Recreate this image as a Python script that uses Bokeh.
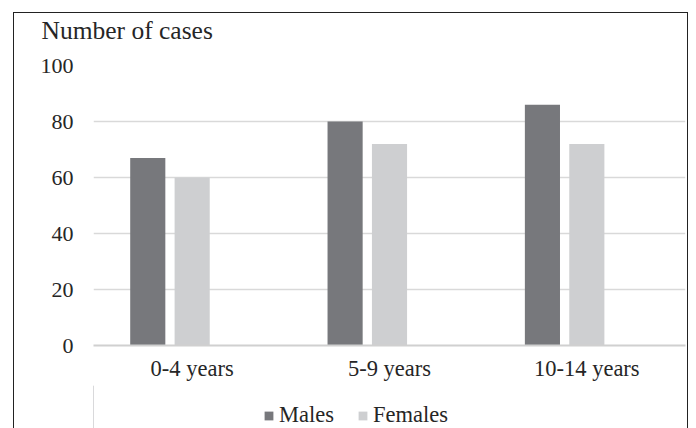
from bokeh.plotting import figure
from bokeh.layouts import column
from bokeh.models import (FactorRange, Range1d, Legend, LegendItem, Title,
                          ColumnDataSource, FixedTicker)
from bokeh.transform import dodge
from bokeh.embed import file_html
from bokeh.resources import INLINE

categories = ["0-4 years", "5-9 years", "10-14 years"]
males = [67, 80, 86]
females = [60, 72, 72]
series = ["Males", "Females"]
y_ticks = [0, 20, 40, 60, 80, 100]
title_text = "Number of cases"

FONT = "Liberation Serif"
TEXT = "#262626"
MALE_C = "#77787c"
FEMALE_C = "#cecfd1"

src = ColumnDataSource(dict(cat=categories, males=males, females=females))

p = figure(width=673, height=372,
           x_range=FactorRange(factors=categories, range_padding=0),
           y_range=Range1d(0, 100),
           output_backend="svg", toolbar_location=None,
           min_border_left=79, min_border_right=2,
           min_border_top=49, min_border_bottom=40)

r1 = p.vbar(x=dodge("cat", -0.225, range=p.x_range), top="males", width=0.178,
            source=src, fill_color=MALE_C, line_color=None)
r2 = p.vbar(x=dodge("cat", 0.0, range=p.x_range), top="females", width=0.178,
            source=src, fill_color=FEMALE_C, line_color=None)

p.outline_line_color = None
p.xgrid.visible = False
p.ygrid.grid_line_color = "#d9d9d9"
p.ygrid.grid_line_width = 1.5
p.yaxis.ticker = FixedTicker(ticks=y_ticks)

p.yaxis.axis_line_color = None
p.yaxis.major_tick_line_color = None
p.yaxis.minor_tick_line_color = None
p.yaxis.major_tick_out = 0
p.yaxis.major_tick_in = 0
p.yaxis.major_label_standoff = 20
p.yaxis.major_label_text_font = FONT
p.yaxis.major_label_text_font_size = "22px"
p.yaxis.major_label_text_color = TEXT

p.xaxis.axis_line_color = "#d0d0d0"
p.xaxis.axis_line_width = 2
p.xaxis.major_tick_line_color = None
p.xaxis.minor_tick_line_color = None
p.xaxis.major_tick_out = 0
p.xaxis.major_tick_in = 0
p.xaxis.major_label_standoff = 10
p.xaxis.major_label_text_font = FONT
p.xaxis.major_label_text_font_size = "22.5px"
p.xaxis.major_label_text_color = TEXT

# spacer between frame and title, then the title itself (outermost)
p.add_layout(Title(text=" ", text_font_size="1px", standoff=18), "above")
p.add_layout(Title(text=title_text, align="left", offset=-52, standoff=0,
                   text_font=FONT, text_font_size="25.5px",
                   text_font_style="normal", text_color=TEXT), "above")

# legend strip below the chart
lf = figure(width=673, height=43, x_range=Range1d(0, 1), y_range=Range1d(0, 1),
            output_backend="svg", toolbar_location=None,
            x_axis_type=None, y_axis_type=None,
            min_border_left=0, min_border_right=0,
            min_border_top=0, min_border_bottom=0)
lf.xgrid.visible = False
lf.ygrid.visible = False
lf.outline_line_color = None
lf.background_fill_color = None
lf.border_fill_color = None
# legend proxies, kept outside the visible range of the strip
proxy = ColumnDataSource(dict(x=[-5.0], top=[1.0]))
l1 = lf.vbar(x="x", top="top", width=0.1, source=proxy,
             fill_color=MALE_C, line_color=None)
l2 = lf.vbar(x="x", top="top", width=0.1, source=proxy,
             fill_color=FEMALE_C, line_color=None)

legend = Legend(items=[LegendItem(label=series[0], renderers=[l1]),
                       LegendItem(label=series[1], renderers=[l2])],
                orientation="horizontal", location=(170, 0))
legend.padding = 0
legend.margin = 0
legend.border_line_color = None
legend.background_fill_alpha = 0
legend.glyph_width = 11
legend.glyph_height = 11
legend.label_standoff = 5
legend.spacing = 23
legend.label_text_font = FONT
legend.label_text_font_size = "22.5px"
legend.label_text_color = TEXT
lf.add_layout(legend)

layout = column(p, lf, spacing=0, margin=(12, 8, 0, 13),
                styles={"border-top": "1px solid #222222",
                        "border-left": "1px solid #222222",
                        "border-right": "1px solid #222222"})

open("out.html", "w").write(file_html(layout, INLINE))
